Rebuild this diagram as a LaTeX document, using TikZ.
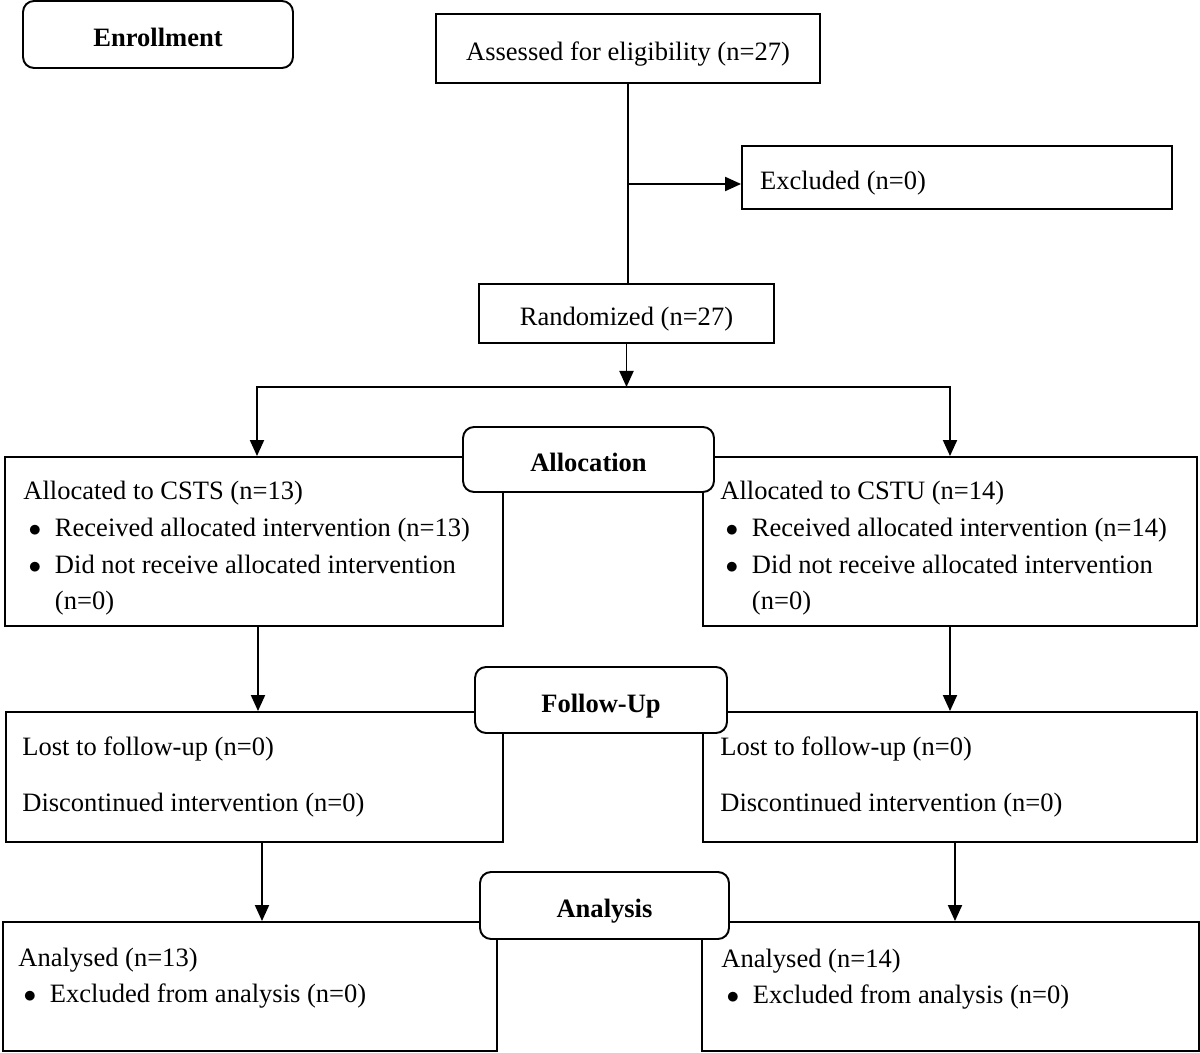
\documentclass[tikz,border=0pt]{standalone}
\usepackage{fontspec}
\setmainfont{Liberation Serif}
\usetikzlibrary{arrows.meta}

\newcommand{\bul}{\makebox[18pt][l]{\hspace{3pt}$\bullet$}}

\begin{document}
\begin{tikzpicture}[x=0.02cm,y=-0.02cm,
  >={Triangle[length=0.32cm,width=0.28cm]},
  every node/.style={font=\fontsize{15.1pt}{20.8pt}\selectfont},
  conn/.style={line width=1.1pt},
  arr/.style={conn,->},
  box/.style={draw,conn,rectangle,inner sep=0pt,text height=14pt,text depth=0pt},
  stage/.style={draw,conn,rounded corners=0.22cm,fill=white,inner sep=0pt,
    text height=14pt,text depth=0pt,
    font=\fontsize{15.1pt}{20.8pt}\selectfont\bfseries},
  txt/.style={inner sep=0pt,anchor=base west,align=flush left,text width=9.4cm}]
\useasboundingbox (0,0) rectangle (1200,1053);

% enrollment
\node[stage,minimum width=5.4cm,minimum height=1.34cm] (enrol) at (158,34.5) {Enrollment};
\node[box,minimum width=7.68cm,minimum height=1.38cm] (assess) at (628,48.5) {Assessed for eligibility (n=27)};
\node[box,minimum width=8.6cm,minimum height=1.26cm,inner xsep=0.36cm,text width=7.88cm,align=flush left] (excl) at (957,177.5) {Excluded (n=0)};
\node[box,minimum width=5.9cm,minimum height=1.18cm] (rand) at (626.5,313.5) {Randomized (n=27)};

\coordinate (exc) at (627,184);
\draw[conn] (assess.south) -- (assess.south |- rand.north);
\draw[arr] (exc) -- (exc -| excl.west);

% allocation
\node[box,minimum width=9.96cm,minimum height=3.38cm] (csts) at (254,541.5) {};
\node[txt] (csts-t) at (23,500) {Allocated to CSTS (n=13)\\
  \bul Received allocated intervention (n=13)\\
  \bul Did not receive allocated intervention\\
  \hspace*{18pt}(n=0)};
\node[box,minimum width=9.88cm,minimum height=3.38cm] (cstu) at (950,541.5) {};
\node[txt] (cstu-t) at (720,500) {Allocated to CSTU (n=14)\\
  \bul Received allocated intervention (n=14)\\
  \bul Did not receive allocated intervention\\
  \hspace*{18pt}(n=0)};

\coordinate (mid) at (627,387);
\coordinate (lft) at (257,387);
\coordinate (rgt) at (950,387);
\draw[arr] (rand.south) -- (rand.south |- mid);
\draw[conn,<->] (lft |- csts.north) -- (lft) -- (rgt) -- (rgt |- cstu.north);

% follow-up
\node[box,minimum width=9.94cm,minimum height=2.6cm] (fl) at (254.5,777) {};
\node[txt] (fl-t) at (22,755) {Lost to follow-up (n=0)\\[11.6pt]
  Discontinued intervention (n=0)};
\node[box,minimum width=9.88cm,minimum height=2.6cm] (fr) at (950,777) {};
\node[txt] (fr-t) at (720,755) {Lost to follow-up (n=0)\\[11.6pt]
  Discontinued intervention (n=0)};

\draw[arr] ([xshift=0.08cm]csts.south) -- ([xshift=0.08cm]csts.south |- fl.north);
\draw[arr] (cstu.south) -- (cstu.south |- fr.north);

% analysis
\node[box,minimum width=9.88cm,minimum height=2.58cm] (al) at (250,986.5) {};
\node[txt] (al-t) at (18,966) {Analysed (n=13)\\
  \bul Excluded from analysis (n=0)};
\node[box,minimum width=9.94cm,minimum height=2.58cm] (ar) at (950.5,986.5) {};
\node[txt] (ar-t) at (721,967) {Analysed (n=14)\\
  \bul Excluded from analysis (n=0)};

\draw[arr] ([xshift=0.15cm]fl.south) -- ([xshift=0.15cm]fl.south |- al.north);
\draw[arr] ([xshift=0.1cm]fr.south) -- ([xshift=0.1cm]fr.south |- ar.north);

% stage labels
\node[stage,minimum width=5.02cm,minimum height=1.3cm] (alloc) at (588.5,459.5) {Allocation};
\node[stage,minimum width=5.04cm,minimum height=1.32cm] (fu) at (601,700) {Follow-Up};
\node[stage,minimum width=4.98cm,minimum height=1.34cm] (anal) at (604.5,905.5) {Analysis};
\end{tikzpicture}
\end{document}
